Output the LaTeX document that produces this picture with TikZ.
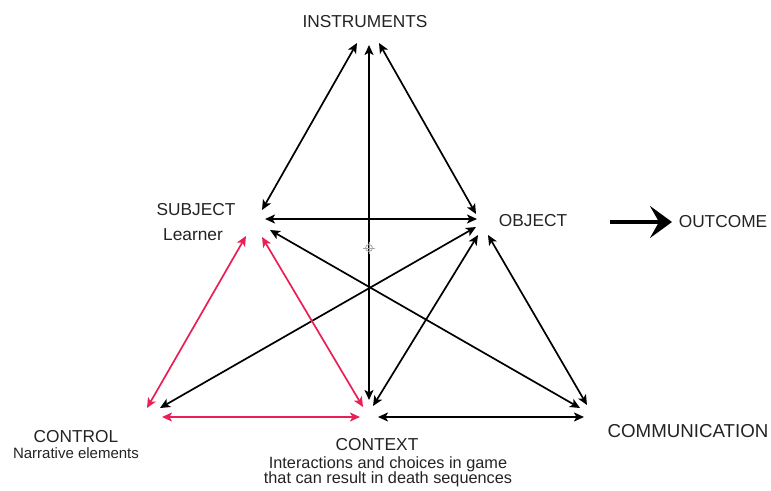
\documentclass[tikz,border=0pt]{standalone}
\usepackage{fontspec}
\setmainfont{Liberation Sans}
\usetikzlibrary{arrows.meta}
\definecolor{linkred}{RGB}{232,32,86}
\definecolor{txtgray}{RGB}{35,35,35}
\tikzset{
  big/.style={font=\fontsize{17.3}{20}\selectfont, text=txtgray, inner sep=0pt, anchor=base},
  small/.style={font=\fontsize{15}{17}\selectfont, text=txtgray, inner sep=0pt, anchor=base},
  link/.style={line width=1.7pt, {Stealth[length=10pt,width=9pt,inset=2.5pt]}-{Stealth[length=10pt,width=9pt,inset=2.5pt]}},
  blk/.style={link, black},
  rd/.style={link, linkred},
}
\begin{document}
\begin{tikzpicture}[x=1pt,y=-1pt]
\useasboundingbox (0,0) rectangle (771,490);
% labels
\node[big] (instr) at (365,27) {INSTRUMENTS};
\node[big] (subj) at (196,215) {SUBJECT};
\node[big] (learner) at (193,240) {Learner};
\node[big] (obj) at (533,226) {OBJECT};
\node[big] (outc) at (723,227) {OUTCOME};
\node[big] (ctrl) at (76,442) {CONTROL};
\node[small] (narr) at (76,458) {Narrative elements};
\node[big] (ctx) at (377,450) {CONTEXT};
\node[small, font=\fontsize{16.3}{17}\selectfont] (ctx1) at (388,468) {Interactions and choices in game};
\node[small, font=\fontsize{16.3}{17}\selectfont] (ctx2) at (388,483) {that can result in death sequences};
\node[big, font=\fontsize{18.7}{20}\selectfont] (comm) at (688,437) {COMMUNICATION};
% endpoints
\coordinate (iL) at (357,43);
\coordinate (iM) at (369,45);
\coordinate (iR) at (379,43);
\coordinate (sT) at (262,210);
\coordinate (sH) at (265,219);
\coordinate (sD) at (270,230);
\coordinate (sRl) at (246,236);
\coordinate (sRr) at (262,237);
\coordinate (oT) at (476,214);
\coordinate (oH) at (477,219);
\coordinate (oL) at (476,227);
\coordinate (oC) at (478,235);
\coordinate (oR) at (488,235);
\coordinate (kR) at (147,408);
\coordinate (kB) at (160,408);
\coordinate (kH) at (162,417);
\coordinate (cR) at (363,407);
\coordinate (cM) at (369,400);
\coordinate (cB) at (373,406);
\coordinate (cHl) at (360,417);
\coordinate (cHr) at (378,417);
\coordinate (mS) at (580,408);
\coordinate (mO) at (587,405);
\coordinate (mH) at (584,417);
\coordinate (aS) at (610,222);
\coordinate (aE) at (672,222);
% black links
\draw[blk] (iL) -- (sT);
\draw[blk] (iR) -- (oT);
\draw[blk] (iM) -- (cM);
\draw[blk] (sH) -- (oH);
\draw[blk] (sD) -- (mS);
\draw[blk] (oL) -- (kB);
\draw[blk] (oC) -- (cB);
\draw[blk] (oR) -- (mO);
\draw[blk] (cHr) -- (mH);
% red links
\draw[rd] (sRl) -- (kR);
\draw[rd] (sRr) -- (cR);
\draw[rd] (kH) -- (cHl);
% outcome arrow
\draw[line width=4pt, -{Stealth[length=22pt,width=32pt,inset=9pt]}] (aS) -- (aE);
% centre mark
\coordinate (mk) at (369,248);
\draw[gray!70, line width=0.8pt] (mk) circle (3.5);
\draw[gray!70, line width=0.8pt] ([xshift=-6]mk) -- ([xshift=6]mk) ([yshift=-6]mk) -- ([yshift=6]mk);
\end{tikzpicture}
\end{document}
